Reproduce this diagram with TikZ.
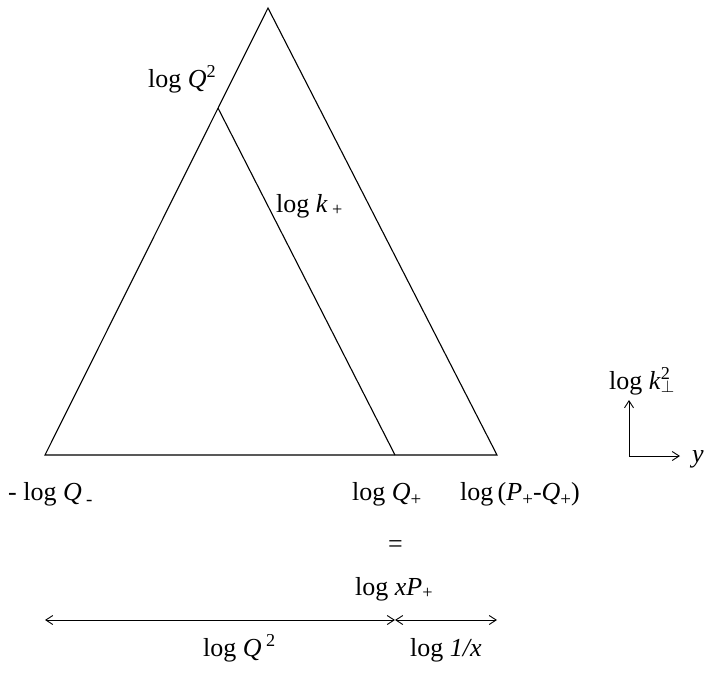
\documentclass[tikz,border=0pt]{standalone}
\usepackage{fontspec}
\setmainfont{Liberation Serif}
\usetikzlibrary{arrows.meta,calc}
\newcommand{\mysup}[1]{\textsuperscript{#1}}
\newcommand{\mysub}[1]{\textsubscript{#1}}
\newcommand{\bigsub}[1]{\raisebox{-0.2em}{\fontsize{19}{20}\selectfont #1}}
\begin{document}
\begin{tikzpicture}[x=1pt,y=-1pt,
  lbl/.style={inner sep=0pt,anchor=base west,font=\fontsize{26}{30}\selectfont},
  edge/.style={line width=1.1pt},
  arr/.style={line width=0.9pt,-{Straight Barb[length=7pt,width=9pt]}},
  darr/.style={line width=0.9pt,{Straight Barb[length=7pt,width=9pt]}-{Straight Barb[length=7pt,width=9pt]}}]
\useasboundingbox (0,0) rectangle (705,673);
\coordinate (A) at (268,8);
\coordinate (L) at (45,455);
\coordinate (R) at (497,455);
\coordinate (I) at ($(L)!0.776!(A)$);
\coordinate (M) at (395,455);
\draw[edge] (L) -- (A) -- (R) -- cycle;
\draw[edge] (I) -- (M);
% axes
\coordinate (O) at (629,456);
\coordinate (Oy) at (629,400);
\coordinate (Ox) at (680,456);
\draw[arr] (O) -- (Oy);
\draw[arr] (O) -- (Ox);
\node[lbl] (ly) at (692,462) {\textit{y}};
\node[lbl] (lk) at (609,389) {log \textit{k}\rlap{\mysup{2}}\mysub{$\perp$}};
% labels
\node[lbl] (lq2) at (148,87) {log \textit{Q}\mysup{2}};
\node[lbl] (lkp) at (276,212) {log \textit{k}\,\mysub{+}};
\node[lbl] (lqm) at (8,500) {- log \textit{Q}\,\bigsub{-}};
\node[lbl] (lqp) at (352,500) {log \textit{Q}\bigsub{+}};
\node[lbl] (lpq) at (460,500) {log\,(\textit{P}\bigsub{+}-\textit{Q}\bigsub{+})};
\node[lbl] (eq) at (388,552) {=};
\node[lbl] (lxp) at (355,595) {log \textit{xP}\mysub{+}};
% bottom arrows
\coordinate (b1) at (45,620);
\coordinate (b2) at (395,620);
\coordinate (b3) at (497,620);
\draw[darr] (b1) -- (b2);
\draw[darr] (b2) -- (b3);
\node[lbl] (bq2) at (203,656) {log \textit{Q}\,\mysup{2}};
\node[lbl] (bx) at (410,656) {log \textit{1/x}};
\end{tikzpicture}
\end{document}
